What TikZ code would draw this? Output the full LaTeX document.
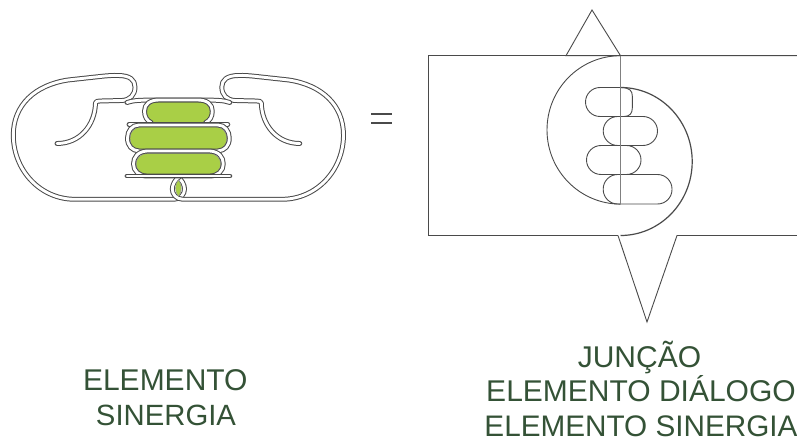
\documentclass[tikz,border=0pt]{standalone}
\usepackage{fontspec}
\setmainfont{Liberation Sans}
\definecolor{ink}{HTML}{4A4A4A}
\definecolor{leaf}{HTML}{A9CF46}
\definecolor{txt}{HTML}{345236}
\tikzset{
  band/.style={draw=ink,line width=1pt,double=white,double distance=2.9pt,line cap=round,line join=round},
  thin/.style={draw=ink,line width=.9pt},
  pale/.style={draw=ink!70,line width=1.2pt},
  green/.style={fill=leaf,draw=ink!60,line width=.4pt},
  label/.style={text=txt,font=\fontsize{30}{30}\selectfont,inner sep=0pt,anchor=base}
}
\newcommand{\halfshape}{%
  \draw[band] (177,176.5) .. controls (182,179.5) and (184.5,185) .. (184.5,189)
     .. controls (184.5,194) and (181,199) .. (174,199.3) -- (75,199.3)
     .. controls (40,199.3) and (13.3,170) .. (13.3,135)
     .. controls (13.3,105) and (35,85) .. (68,80)
     -- (100,76.5) .. controls (108,75.6) and (113,75.3) .. (118,75.5)
     .. controls (130,75.5) and (135,80) .. (135,87)
     .. controls (135,95) and (130,100) .. (122,100.5)
     -- (100,101) .. controls (97,101) and (96,101.5) .. (95.5,103)
     .. controls (95,125) and (80,143.5) .. (57,143.5);
}
\begin{document}
\begin{tikzpicture}[x=1pt,y=-1pt]
\useasboundingbox (0,0) rectangle (797,438);
% right-hand figure
\draw[thin] (620.5,55.7) -- (566,55.7) -- (592,10) -- (620.5,55.7) -- (797,55.7);
\draw[thin] (566,55.7) -- (428.5,55.7) -- (428.5,235.5) -- (618,235.5);
\draw[thin] (797,235.5) -- (677,235.5) -- (647,322) -- (618,235.5);
\draw[thin] (620.5,55.7) arc[start angle=-90,end angle=-270,x radius=73.5,y radius=74.2];
\draw[thin,line width=1.2pt] (620.5,235.5) arc[start angle=90,end angle=-90,x radius=71.7,y radius=74];
\draw[thin] (620.5,87.5) -- (600,87.5) arc[start angle=-90,end angle=-270,radius=14.5] -- (624,116.5)
  .. controls (630,116.5) and (632.3,113) .. (632.3,108) -- (632.3,96) .. controls (632.3,91) and (630,87.5) .. (620.5,87.5);
\draw[thin,rounded corners=14.5pt] (603.2,116.5) rectangle (657.5,145.5);
\draw[thin,rounded corners=14.5pt] (586.5,145.5) rectangle (641,174.5);
\draw[thin,rounded corners=14.5pt] (603.2,174.5) rectangle (672,204);
\draw[pale] (620.8,55.7) -- (620.8,204);
% equals
\draw[draw=ink,line width=1.5pt] (371,114) -- (392,114) (371,123) -- (392,123);
% left-hand figure
\path[green,rounded corners=11pt] (146.5,101.5) rectangle (210.3,123);
\path[green,rounded corners=11pt] (130,127) rectangle (226.8,150);
\path[green,rounded corners=11pt] (136,153.5) rectangle (220.8,174.5);
\halfshape
\begin{scope}[xscale=-1,xshift=-356.8pt]\halfshape\end{scope}
\draw[band] (127,102.5) .. controls (133,100.5) and (138,100) .. (160,100) -- (197,100)
  .. controls (219,100) and (224,100.5) .. (229.8,102.5);
\draw[band] (151,122.5) .. controls (147,120.5) and (144.5,117) .. (144.5,111)
  .. controls (144.5,104) and (150,100) .. (159,100) -- (197.8,100)
  .. controls (206.8,100) and (212.3,104) .. (212.3,111) .. controls (212.3,117) and (209.8,120.5) .. (205.8,122.5);
\draw[band] (129,124.5) -- (227.8,124.5);
\draw[band] (139,125) -- (217.8,125) .. controls (224.8,125) and (229.3,131) .. (229.3,138)
  .. controls (229.3,146) and (224.8,150.5) .. (217.8,151) -- (139,151)
  .. controls (132,150.5) and (127.5,146) .. (127.5,138) .. controls (127.5,131) and (132,125) .. (139,125) -- cycle;
\draw[band] (147,151) -- (209.8,151) .. controls (218.8,151.5) and (223.3,157) .. (223.3,164)
  .. controls (223.3,171) and (217.8,176) .. (209.8,176) -- (147,176)
  .. controls (139,176) and (133.5,171) .. (133.5,164) .. controls (133.5,157) and (138,151.5) .. (147,151) -- cycle;
\draw[band] (127,176) -- (229.8,176);
\path[green] (178.4,180) .. controls (174.6,184) and (174.6,192) .. (178.4,196.5) .. controls (182.2,192) and (182.2,184) .. (178.4,180);
% labels
\node[label] (a1) at (165.3,390) {ELEMENTO};
\node[label,font=\fontsize{29.3}{30}\selectfont] (a2) at (166,425.5) {SINERGIA};
\node[label] (b1) at (639.5,367) {JUNÇÃO};
\node[label] (b2) at (641,401.7) {ELEMENTO DIÁLOGO};
\node[label,font=\fontsize{29.7}{30}\selectfont] (b3) at (641,436) {ELEMENTO SINERGIA};
\end{tikzpicture}
\end{document}
